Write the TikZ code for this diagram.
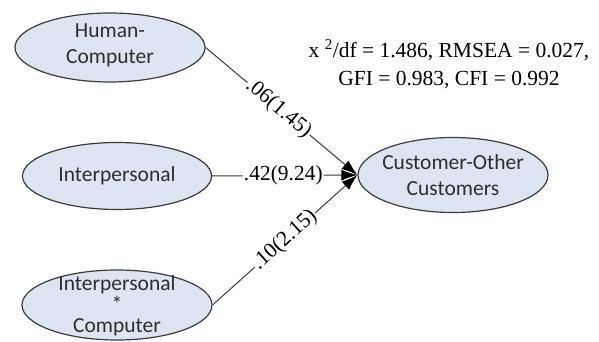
\documentclass[tikz,border=0pt]{standalone}
\usepackage{fontspec}
\setmainfont{Liberation Serif}
\newfontfamily\ellfont{Carlito}
\usetikzlibrary{shapes.geometric,arrows.meta}
\definecolor{ellfill}{RGB}{221,229,242}
\definecolor{edgegray}{RGB}{60,60,60}
\definecolor{labgray}{RGB}{45,45,45}
\begin{document}
\begin{tikzpicture}[x=1pt,y=-1pt,
  latent/.style={ellipse, draw=edgegray, line width=1.2pt, fill=ellfill,
    minimum width=190pt, minimum height=68pt, inner sep=0pt},
  lattext/.style={font=\ellfont\fontsize{21.5}{26}\selectfont, align=center,
    text=labgray, inner sep=0pt},
  effect/.style={draw=edgegray, line width=1pt,
    -{Latex[length=16pt,width=11pt,black]}},
  coef/.style={font=\fontsize{21.5}{24}\selectfont, fill=white,
    inner sep=1pt, sloped}
]
\path[use as bounding box, fill=white] (0,0) rectangle (599,342);

% latent variables
\node[latent, minimum height=69pt] (hc) at (110,47.5) {};
\node[latent, minimum width=189pt, minimum height=67pt] (ip) at (117,176) {};
\node[latent, minimum height=70pt] (ipc) at (117,305) {};
\node[latent, minimum height=75pt] (co) at (453,175) {};

% variable names
\node[lattext] (hct) at (110,45) {Human-\\Computer};
\node[lattext] (ipt) at (117,176) {Interpersonal};
\node[lattext, font=\ellfont\fontsize{21.5}{21}\selectfont] (ipct) at (117,306) {Interpersonal\\*\\Computer};
\node[lattext] (cot) at (453,175) {Customer-Other\\Customers};

% fit statistics
\node[font=\fontsize{21.5}{28}\selectfont, align=center, inner sep=0pt] (fit) at (449,64)
  {x \textsuperscript{2}/df = 1.486, RMSEA = 0.027,\\GFI = 0.983, CFI = 0.992};

% structural paths
\draw[effect] (hc.east) -- node[coef, pos=0.48] {.06(1.45)} (co.west);
\draw[effect] (ip.east) -- node[coef, pos=0.49] {.42(9.24)} (co.west);
\draw[effect] (ipc.east) -- node[coef, pos=0.5] {.10(2.15)} (co.west);
\end{tikzpicture}
\end{document}
